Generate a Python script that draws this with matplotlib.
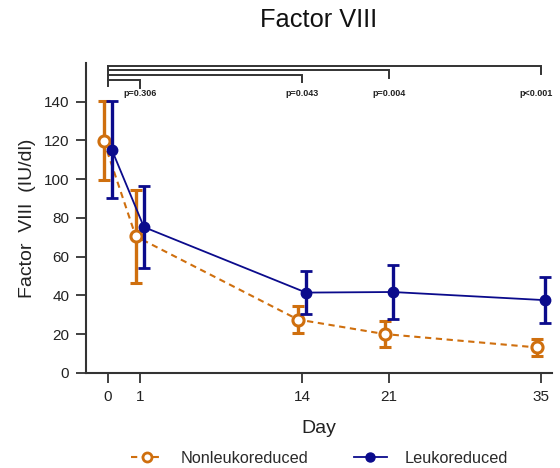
import matplotlib.pyplot as plt
from matplotlib.lines import Line2D
import numpy as np

plt.rcParams['font.family'] = ['Liberation Sans', 'DejaVu Sans']

days = ['0', '1', '14', '21', '35']
# horizontal placement of each sampling day on the axis
xpos = np.array([0, 2.6, 15.7, 22.7, 35])

non_mean = [119.9, 70.5, 27.6, 20.1, 13.2]
non_sd = [20.5, 24.0, 7.0, 6.8, 4.6]
leuko_mean = [115.3, 75.3, 41.5, 41.8, 37.6]
leuko_sd = [25.0, 21.0, 11.0, 14.0, 12.0]

p_labels = ['p=0.306', 'p=0.043', 'p=0.004', 'p<0.001']

orange = '#cf6f0e'
navy = '#0b0b8c'
dark = '#333333'

fig = plt.figure(figsize=(5.6, 4.68), dpi=100)
ax = fig.add_axes([0.1536, 0.203, 0.8321, 0.6624])

off = 0.33
non_style = dict(color=orange, ls=(0, (3, 2.2)), lw=1.5, marker='o', ms=8,
                 mfc='white', mec=orange, mew=2.2)
leuko_style = dict(color=navy, ls='-', lw=1.3, marker='o', ms=7.5, mfc=navy, mec=navy)

ax.errorbar(xpos - off, non_mean, yerr=non_sd, elinewidth=2.4, capsize=4.5,
            capthick=2, zorder=3, **non_style)
ax.errorbar(xpos + off, leuko_mean, yerr=leuko_sd, elinewidth=2.4, capsize=4.5,
            capthick=2, zorder=4, **leuko_style)

# significance brackets from day 0 to each later day
tops = [151, 154, 156.5, 158.5]
for i, lab in enumerate(p_labels):
    x1 = xpos[i + 1]
    y = tops[i]
    ax.plot([xpos[0], x1, x1], [y, y, y - 4], color=dark, lw=1.4, clip_on=False,
            solid_joinstyle='miter')
    if i < len(p_labels) - 1:
        ax.text(x1, 144.5, lab, ha='center', va='center', fontsize=6.5,
                fontweight='bold', color='#222222')
    else:
        ax.text(x1 + 1.0, 144.5, lab, ha='right', va='center', fontsize=6.5,
                fontweight='bold', color='#222222')
ax.plot([xpos[0], xpos[0]], [tops[-1], 148], color=dark, lw=1.4, clip_on=False)

ax.set_xlim(-1.75, 35.9)
ax.set_ylim(0, 160)
ax.set_xticks(xpos)
ax.set_xticklabels(days)
ax.set_yticks(np.arange(0, 141, 20))

for s in ['top', 'right']:
    ax.spines[s].set_visible(False)
for s in ['left', 'bottom']:
    ax.spines[s].set_color(dark)
    ax.spines[s].set_linewidth(1.5)
ax.tick_params(direction='out', length=7, width=1.3, color=dark,
               labelsize=11, labelcolor='#222222', pad=5)

ax.set_xlabel('Day', fontsize=14, color='#222222', labelpad=12)
ax.set_ylabel('Factor  VIII  (IU/dl)', fontsize=14, color='#222222', labelpad=6)

fig.text(0.569, 0.957, 'Factor VIII', ha='center', va='center', fontsize=18.3,
         color='#111111')

handles = [Line2D([], [], **dict(non_style, ms=6.5, mew=2)),
           Line2D([], [], **dict(leuko_style, ms=6.5))]
fig.legend(handles, ['Nonleukoreduced', 'Leukoreduced'], loc='center',
           bbox_to_anchor=(0.57, 0.021), ncol=2, frameon=False,
           fontsize=11.7, handlelength=2.0, handletextpad=1.1, columnspacing=2.8,
           labelcolor='#2a2a2a')

fig.savefig('out.png', dpi=100)
